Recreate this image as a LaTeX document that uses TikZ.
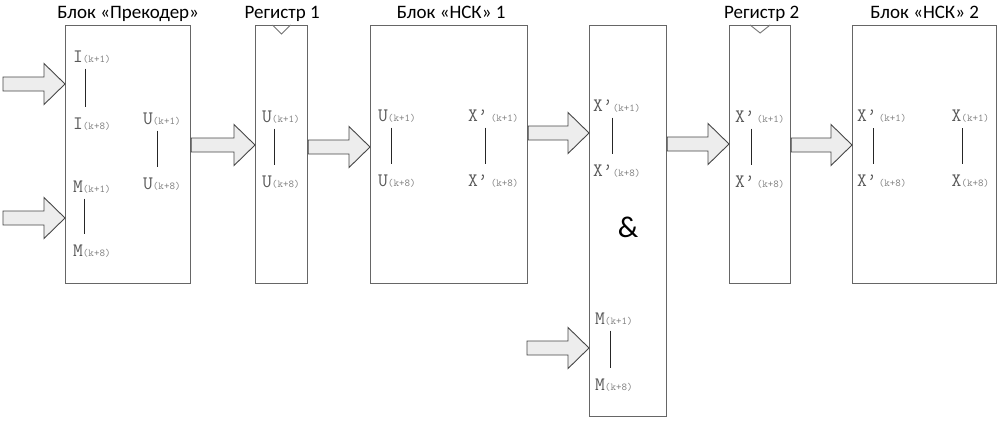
\documentclass[tikz,border=0pt]{standalone}
\usepackage{fontspec}
\newfontfamily\carl{Carlito}
\usetikzlibrary{calc}
\tikzset{
  blk/.style={draw=black!60, line width=1.2pt, anchor=north west, inner sep=0pt, minimum height=258pt},
  ttl/.style={font=\carl\fontsize{19}{19}\selectfont, text=black, inner sep=0pt, anchor=base},
  lbl/.style={anchor=base west, inner sep=0pt, text=black!65},
  vline/.style={draw=black!85, line width=0.9pt},
  barr/.style={fill=black!7, draw=black!72, line width=0.9pt, line join=miter},
  clk/.style={draw=black!55, line width=0.9pt},
}
\newcommand{\lab}[2]{{\ttfamily\fontsize{19}{19}\selectfont #1}{\ttfamily\fontsize{10.5}{10.5}\selectfont\color{black!50}#2}}
\newcommand{\barrow}[2]{\draw[barr] ($(#1)+(0,-7)$) -- ($(#2)+(-21,-7)$) -- ($(#2)+(-21,-20.5)$) -- (#2) -- ($(#2)+(-21,20.5)$) -- ($(#2)+(-21,7)$) -- ($(#1)+(0,7)$) -- cycle;}
\newcommand{\vl}[3]{\draw[vline] ([xshift=#3pt,yshift=-5.5pt]#1.south west) -- ([xshift=#3pt,yshift=10.5pt]#2.north west);}
\begin{document}
\begin{tikzpicture}[x=1pt,y=-1pt]
\useasboundingbox (0,0) rectangle (1003,421);
% blocks
\node[blk, minimum width=125pt] (pre) at (65,25) {};
\node[blk, minimum width=52pt] (r1) at (255,25) {};
\node[blk, minimum width=157pt] (n1) at (370,25) {};
\node[blk, minimum width=77pt, minimum height=391pt] (amp) at (589,25) {};
\node[blk, minimum width=61pt] (r2) at (729,25) {};
\node[blk, minimum width=144pt] (n2) at (852,25) {};
% titles
\node[ttl] (tpre) at ($(pre.north)+(0,-6.5)$) {Блок «Прекодер»};
\node[ttl] (tr1) at ($(r1.north)+(0.5,-6.5)$) {Регистр 1};
\node[ttl] (tn1) at ($(n1.north)+(2,-6.5)$) {Блок «НСК» 1};
\node[ttl] (tr2) at ($(r2.north)+(1.5,-6.5)$) {Регистр 2};
\node[ttl] (tn2) at ($(n2.north)+(0,-6.5)$) {Блок «НСК» 2};
% clock triangles
\draw[clk] ([xshift=-9pt]r1.north) -- ([yshift=-9pt]r1.north) -- ([xshift=9pt]r1.north);
\draw[clk] ([xshift=-10pt]r2.north) -- ([yshift=-8pt]r2.north) -- ([xshift=10pt]r2.north);
% labels precoder
\node[lbl] (pI1) at (73,62) {\lab{I}{(k+1)}};
\node[lbl] (pI8) at (73,129) {\lab{I}{(k+8)}};
\node[lbl] (pU1) at (143,124) {\lab{U}{(k+1)}};
\node[lbl] (pU8) at (143,189) {\lab{U}{(k+8)}};
\node[lbl] (pM1) at (73,192) {\lab{M}{(k+1)}};
\node[lbl] (pM8) at (73,256) {\lab{M}{(k+8)}};
\vl{pI1}{pI8}{12}
\vl{pU1}{pU8}{14}
\vl{pM1}{pM8}{11.5}
% register 1
\node[lbl] (rU1) at (262,122) {\lab{U}{(k+1)}};
\node[lbl] (rU8) at (262,187) {\lab{U}{(k+8)}};
\vl{rU1}{rU8}{12}
% NSK 1
\node[lbl] (nU1) at (378,121) {\lab{U}{(k+1)}};
\node[lbl] (nU8) at (378,186) {\lab{U}{(k+8)}};
\node[lbl] (nX1) at (468,121) {\lab{X’}{\hspace{3pt}(k+1)}};
\node[lbl] (nX8) at (468,186) {\lab{X’}{\hspace{3pt}(k+8)}};
\vl{nU1}{nU8}{13.5}
\vl{nX1}{nX8}{17.5}
% & block
\node[lbl] (aX1) at (593,111) {\lab{X’}{\hspace{0pt}(k+1)}};
\node[lbl] (aX8) at (593,176) {\lab{X’}{\hspace{0pt}(k+8)}};
\vl{aX1}{aX8}{19}
\node[font=\carl\fontsize{30}{30}\selectfont, inner sep=0pt] (amps) at (628,227) {\&};
\node[lbl] (aM1) at (595,324) {\lab{M}{(k+1)}};
\node[lbl] (aM8) at (595,390) {\lab{M}{(k+8)}};
\vl{aM1}{aM8}{15.5}
% register 2
\node[lbl] (sX1) at (735,122) {\lab{X’}{\hspace{2pt}(k+1)}};
\node[lbl] (sX8) at (735,187) {\lab{X’}{\hspace{2pt}(k+8)}};
\vl{sX1}{sX8}{16.5}
% NSK 2
\node[lbl] (mX1) at (857,121.5) {\lab{X’}{\hspace{2pt}(k+1)}};
\node[lbl] (mX8) at (857,186.5) {\lab{X’}{\hspace{2pt}(k+8)}};
\node[lbl] (mY1) at (951.5,121.5) {\lab{X}{(k+1)}};
\node[lbl] (mY8) at (951.5,186.5) {\lab{X}{(k+8)}};
\vl{mX1}{mX8}{16.5}
\vl{mY1}{mY8}{10.5}
% arrows
\coordinate (in1) at (3,84);
\coordinate (in2) at (3,218);
\coordinate (in3) at (527,348);
\coordinate (t1) at (pre.west |- in1);
\coordinate (t2) at (pre.west |- in2);
\coordinate (t3) at (amp.west |- in3);
\barrow{in1}{t1}
\barrow{in2}{t2}
\barrow{in3}{t3}
\coordinate (ta) at ($(r1.north west)+(0,120)$);
\coordinate (sa) at (pre.east |- ta);
\barrow{sa}{ta}
\coordinate (tb) at ($(n1.north west)+(0,122)$);
\coordinate (sb) at (r1.east |- tb);
\barrow{sb}{tb}
\coordinate (tc) at ($(amp.north west)+(0,108)$);
\coordinate (sc) at (n1.east |- tc);
\barrow{sc}{tc}
\coordinate (td) at ($(r2.north west)+(0,119)$);
\coordinate (sd) at (amp.east |- td);
\barrow{sd}{td}
\coordinate (te) at ($(n2.north west)+(0,120)$);
\coordinate (se) at (r2.east |- te);
\barrow{se}{te}
\end{tikzpicture}
\end{document}
